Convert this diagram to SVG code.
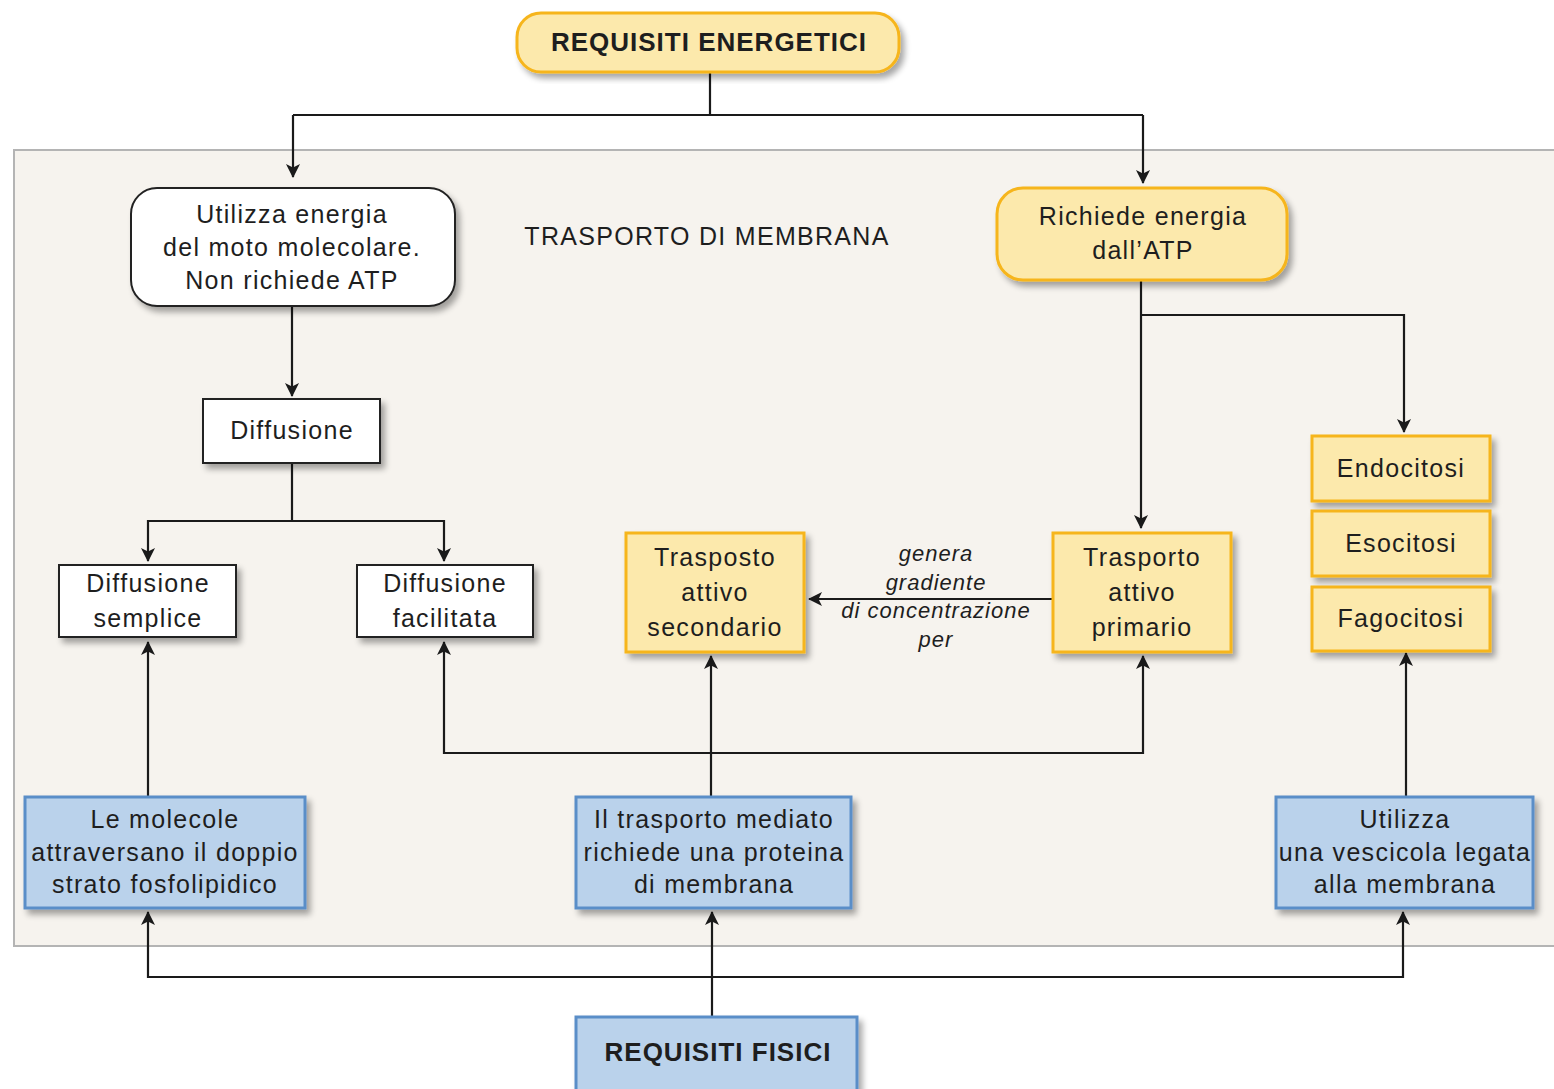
<svg xmlns="http://www.w3.org/2000/svg" width="1554" height="1089" viewBox="0 0 1554 1089">
<defs>
<filter id="sh" x="-10%" y="-10%" width="125%" height="130%">
<feGaussianBlur in="SourceAlpha" stdDeviation="3"/>
<feOffset dx="4" dy="5" result="b"/>
<feComponentTransfer><feFuncA type="linear" slope="0.35"/></feComponentTransfer>
<feMerge><feMergeNode/><feMergeNode in="SourceGraphic"/></feMerge>
</filter>
<marker id="ar" viewBox="0 0 14 14" refX="13" refY="7" markerWidth="14" markerHeight="14" markerUnits="userSpaceOnUse" orient="auto">
<path d="M0,0 L14,7 L0,14 L3.5,7 Z" fill="#1a1a1a"/>
</marker>
</defs>
<style>
.t{font-family:"Liberation Sans",Arial,Helvetica,sans-serif;font-size:25px;letter-spacing:1.3px;fill:#1e1e1e;text-anchor:middle}
.b{font-weight:bold;font-size:26px;letter-spacing:1px}
.i{font-style:italic;font-size:22px;letter-spacing:1px}
.yel{fill:#fce9ac;stroke:#f6b51c;stroke-width:3}
.wht{fill:#ffffff;stroke:#222;stroke-width:2}
.blu{fill:#bad2eb;stroke:#5a8ec8;stroke-width:3}
.ln{fill:none;stroke:#1a1a1a;stroke-width:2.2}
</style>
<rect x="0" y="0" width="1554" height="1089" fill="#ffffff"/>
<rect x="14" y="150" width="1545" height="796" fill="#f6f3ee" stroke="#b4b4b4" stroke-width="2"/>

<g id="connectors">
<path class="ln" d="M710,72 V115 M293,115 H1143"/>
<path class="ln" d="M293,115 V177" marker-end="url(#ar)"/>
<path class="ln" d="M1143,115 V183" marker-end="url(#ar)"/>
<path class="ln" d="M292,306 V396" marker-end="url(#ar)"/>
<path class="ln" d="M292,463 V521 H148 V561" marker-end="url(#ar)"/>
<path class="ln" d="M292,521 H444 V561" marker-end="url(#ar)"/>
<path class="ln" d="M1141,281 V528" marker-end="url(#ar)"/>
<path class="ln" d="M1141,315 H1404 V432" marker-end="url(#ar)"/>
<path class="ln" d="M1053,599 H809" marker-end="url(#ar)"/>
<path class="ln" d="M148,797 V642" marker-end="url(#ar)"/>
<path class="ln" d="M711,797 V656" marker-end="url(#ar)"/>
<path class="ln" d="M711,753 H444 V642" marker-end="url(#ar)"/>
<path class="ln" d="M711,753 H1143 V656" marker-end="url(#ar)"/>
<path class="ln" d="M1406,797 V653" marker-end="url(#ar)"/>
<path class="ln" d="M712,1017 V912" marker-end="url(#ar)"/>
<path class="ln" d="M712,977 H148 V912" marker-end="url(#ar)"/>
<path class="ln" d="M712,977 H1403 V912" marker-end="url(#ar)"/>
<text class="t i" x="936" y="561">genera</text>
<text class="t i" x="936" y="590">gradiente</text>
<text class="t i" x="936" y="618">di concentrazione</text>
<text class="t i" x="936" y="647">per</text>
</g>

<text class="t" x="707" y="245">TRASPORTO DI MEMBRANA</text>

<g id="req-energetici">
<rect class="yel" x="517" y="13" width="382" height="59" rx="24" filter="url(#sh)"/>
<text class="t b" x="709" y="51">REQUISITI ENERGETICI</text>
</g>

<g id="utilizza-energia">
<rect class="wht" x="131" y="188" width="324" height="118" rx="26" filter="url(#sh)"/>
<text class="t" x="292" y="223">Utilizza energia</text>
<text class="t" x="292" y="256">del moto molecolare.</text>
<text class="t" x="292" y="289">Non richiede ATP</text>
</g>

<g id="richiede-atp">
<rect class="yel" x="997" y="188" width="290" height="92" rx="26" filter="url(#sh)"/>
<text class="t" x="1143" y="225">Richiede energia</text>
<text class="t" x="1143" y="259">dall’ATP</text>
</g>

<g id="diffusione">
<rect class="wht" x="203" y="399" width="177" height="64" filter="url(#sh)"/>
<text class="t" x="292" y="439">Diffusione</text>
</g>

<g id="diff-semplice">
<rect class="wht" x="59" y="565" width="177" height="72" filter="url(#sh)"/>
<text class="t" x="148" y="592">Diffusione</text>
<text class="t" x="148" y="627">semplice</text>
</g>

<g id="diff-facilitata">
<rect class="wht" x="357" y="565" width="176" height="72" filter="url(#sh)"/>
<text class="t" x="445" y="592">Diffusione</text>
<text class="t" x="445" y="627">facilitata</text>
</g>

<g id="attivo-secondario">
<rect class="yel" x="626" y="533" width="178" height="119" filter="url(#sh)"/>
<text class="t" x="715" y="566">Trasposto</text>
<text class="t" x="715" y="601">attivo</text>
<text class="t" x="715" y="636">secondario</text>
</g>

<g id="attivo-primario">
<rect class="yel" x="1053" y="533" width="178" height="119" filter="url(#sh)"/>
<text class="t" x="1142" y="566">Trasporto</text>
<text class="t" x="1142" y="601">attivo</text>
<text class="t" x="1142" y="636">primario</text>
</g>

<g id="endocitosi">
<rect class="yel" x="1312" y="436" width="178" height="65" filter="url(#sh)"/>
<text class="t" x="1401" y="477">Endocitosi</text>
</g>
<g id="esocitosi">
<rect class="yel" x="1312" y="511" width="178" height="65" filter="url(#sh)"/>
<text class="t" x="1401" y="552">Esocitosi</text>
</g>
<g id="fagocitosi">
<rect class="yel" x="1312" y="587" width="178" height="64" filter="url(#sh)"/>
<text class="t" x="1401" y="627">Fagocitosi</text>
</g>

<g id="molecole">
<rect class="blu" x="25" y="797" width="280" height="111" filter="url(#sh)"/>
<text class="t" x="165" y="828">Le molecole</text>
<text class="t" x="165" y="861">attraversano il doppio</text>
<text class="t" x="165" y="893">strato fosfolipidico</text>
</g>

<g id="trasporto-mediato">
<rect class="blu" x="576" y="797" width="275" height="111" filter="url(#sh)"/>
<text class="t" x="714" y="828">Il trasporto mediato</text>
<text class="t" x="714" y="861">richiede una proteina</text>
<text class="t" x="714" y="893">di membrana</text>
</g>

<g id="vescicola">
<rect class="blu" x="1276" y="797" width="257" height="111" filter="url(#sh)"/>
<text class="t" x="1405" y="828">Utilizza</text>
<text class="t" x="1405" y="861">una vescicola legata</text>
<text class="t" x="1405" y="893">alla membrana</text>
</g>

<g id="req-fisici">
<rect class="blu" x="576" y="1017" width="281" height="80" filter="url(#sh)"/>
<text class="t b" x="718" y="1061">REQUISITI FISICI</text>
</g>
</svg>
